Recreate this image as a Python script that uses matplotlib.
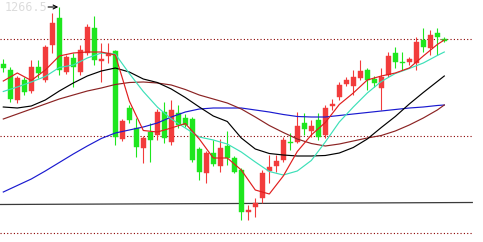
import matplotlib
matplotlib.use("Agg")
import matplotlib.pyplot as plt
import numpy as np

# ---- candle data (price units; label 1266.5 marks the highest high) ----
opens = [1238, 1235, 1220, 1230, 1224.5, 1236.5, 1230, 1247.5, 1261, 1234,
         1241, 1234, 1243.5, 1256, 1239.5, 1242, 1244.5, 1200.5, 1216, 1206,
         1196, 1204, 1202.5, 1214, 1199, 1213.5, 1211, 1210.5, 1195.5, 1183.5,
         1193.5, 1187, 1197, 1191, 1185, 1164, 1166.5, 1171, 1184.5, 1187,
         1190, 1199, 1199, 1208.5, 1204.5, 1210, 1202.5, 1217, 1221.5, 1228,
         1227, 1231, 1235, 1230.5, 1226, 1232.5, 1243.5, 1239, 1239, 1238.5,
         1250, 1246, 1253.5, 1250.5]
highs = [1240.5, 1236.5, 1232, 1231.5, 1240, 1240, 1247.5, 1263.5, 1266.5, 1242.5,
         1243.5, 1247.5, 1258, 1262, 1248.5, 1248.5, 1245, 1210.5, 1217.5, 1211,
         1202, 1208.5, 1215.5, 1219, 1220, 1217.5, 1213, 1211.5, 1196.5, 1194.5,
         1200, 1200.5, 1204.5, 1192, 1186, 1167.5, 1171, 1185, 1192.5, 1192.5,
         1201.5, 1203.5, 1214, 1213.5, 1210, 1213.5, 1217.5, 1220.5, 1229, 1231.5,
         1235, 1240, 1236, 1232, 1236, 1244, 1246.5, 1244, 1241.5, 1251.5,
         1256, 1255, 1256, 1251.5]
lows = [1234, 1219, 1218.5, 1222.5, 1223.5, 1231, 1229, 1243.5, 1232.5, 1233,
        1226.5, 1232.5, 1242.5, 1237.5, 1229, 1238.5, 1197.5, 1199.5, 1208.5, 1191.5,
        1188.5, 1189, 1200, 1198.5, 1197.5, 1206, 1206.5, 1189, 1180, 1178.5,
        1187, 1184, 1187.5, 1183.5, 1160, 1160, 1161.5, 1168.5, 1178.5, 1184,
        1189, 1195, 1198.5, 1202.5, 1201.5, 1200, 1201, 1215, 1220, 1227,
        1222.5, 1230, 1225, 1226.5, 1215, 1231.5, 1236, 1235, 1237.5, 1235,
        1244, 1242.5, 1242.5, 1249]
closes = [1236, 1220.5, 1231, 1224, 1236.5, 1233.5, 1246.5, 1258.5, 1235, 1241.5,
          1236.5, 1245, 1256.5, 1240, 1240.5, 1243.5, 1201.5, 1209.5, 1210, 1196.5,
          1201, 1200, 1214, 1201, 1215, 1207.5, 1207.5, 1190, 1184, 1193.5,
          1188, 1196, 1191, 1184, 1164, 1165, 1168.5, 1183.5, 1186.5, 1189.5,
          1200, 1198.5, 1207, 1205.5, 1207, 1201.5, 1216, 1218, 1227.5, 1230,
          1231.5, 1234.5, 1230, 1228.5, 1231.5, 1242, 1239, 1238.5, 1240.5, 1249,
          1246.5, 1252.5, 1251.5, 1249.5]

# ---- moving averages, read at every second candle (plus the last one) ----
ma_idx = list(range(0, 64, 2)) + [63]
ma_fast = [1229.5, 1233.5, 1229.75, 1235, 1242, 1243.5, 1244, 1244, 1242.5, 1219.5,
           1204.75, 1204, 1206, 1208.25, 1200.5, 1191, 1191, 1185, 1175, 1173,
           1182, 1194.25, 1202.5, 1208.75, 1217.75, 1223.5, 1230, 1232, 1233.5, 1236,
           1242, 1247.75, 1250]
ma_cyan = [1224.25, 1226.5, 1229, 1231.75, 1236.25, 1237.5, 1241, 1243.5, 1243, 1233.25,
           1224.25, 1216.5, 1210.5, 1206, 1201.5, 1200, 1198, 1194, 1189, 1184.25,
           1182.5, 1184.5, 1189.75, 1199, 1209, 1216.5, 1223.5, 1229.25, 1233.25, 1235.75,
           1238.5, 1242.25, 1244]
ma_black = [1216.5, 1216, 1217, 1220, 1224.5, 1228.5, 1232, 1234.5, 1236, 1234,
            1230.5, 1228.75, 1225.5, 1221.25, 1216.5, 1212, 1209.25, 1201, 1195.5, 1193.25,
            1192.5, 1192, 1192, 1192.25, 1193.5, 1196.25, 1200.5, 1206.25, 1211.75, 1218,
            1223.75, 1229.25, 1232]
ma_brown = [1210.5, 1213, 1215.5, 1218, 1220.5, 1222.5, 1224.5, 1226, 1227.75, 1228.75,
            1229, 1228.5, 1227.5, 1225.25, 1222.5, 1220.5, 1218.5, 1215.5, 1211.5, 1207.25,
            1203.75, 1200.5, 1198.25, 1197, 1198, 1199.5, 1201, 1202.25, 1204.5, 1207.5,
            1211, 1215, 1217.5]
ma_blue = [1174, 1177.25, 1180.5, 1184.5, 1188.75, 1193, 1197, 1200.75, 1203.5, 1205,
           1206.5, 1208.5, 1211.5, 1214, 1215.5, 1216, 1216, 1216, 1215, 1214,
           1212.75, 1211.75, 1211.5, 1211.5, 1212.25, 1213, 1213.75, 1214.5, 1215.25, 1216,
           1216.5, 1217.25, 1217.5]

# ---- reference levels ----
level_dotted = [1250.5, 1202, 1153.5]
support_line = [1167.75, 1168.75]
high_label = "1266.5"
high_value = 1266.5
high_index = 8

UP = '#f23c3c'
DOWN = '#1ee61e'

fig = plt.figure(figsize=(4.83, 2.42), dpi=100)
ax = fig.add_axes([0, 0, 1, 1])
ax.set_axis_off()
ax.set_xlim(-0.471, 68.53)
ax.set_ylim(1149, 1270)

n = len(opens)
x = np.arange(n)
o = np.array(opens); c = np.array(closes)
h = np.array(highs); l = np.array(lows)
cols = [UP if cc > oo else DOWN for oo, cc in zip(o, c)]

# levels
x_end = 67.0
for lv in level_dotted:
    ax.plot([-0.5, x_end], [lv, lv], color='#8b0000', lw=0.8,
            linestyle=(0, (1, 2)), zorder=1)
ax.plot([-0.5, x_end], support_line, color='#3a3a3a', lw=0.9, zorder=1)

# candles
ax.vlines(x, l, h, colors=cols, lw=0.8, zorder=2)
bottoms = np.minimum(o, c)
heights = np.maximum(np.abs(c - o), 0.6)
ax.bar(x, heights, bottom=bottoms, width=0.72, color=cols, edgecolor=cols,
       linewidth=0.3, zorder=3)

# moving averages
mx = np.array(ma_idx)
ax.plot(mx, ma_blue, color='#1a1ad0', lw=0.85, zorder=4)
ax.plot(mx, ma_brown, color='#8b2323', lw=0.85, zorder=4)
ax.plot(mx, ma_black, color='#000000', lw=0.85, zorder=4)
ax.plot(mx, ma_cyan, color='#3ce0b8', lw=0.85, zorder=4)
ax.plot(mx, ma_fast, color='#e01e1e', lw=0.85, zorder=5)

# highest-high label and arrow
ax.text(0.22, 1266.2, high_label, family='DejaVu Sans Mono', fontsize=8.5,
        color='#dcdcdc', ha='left', va='center', zorder=6)
ax.annotate('', xy=(high_index - 0.15, high_value), xytext=(high_index - 1.6, high_value),
            arrowprops=dict(arrowstyle='->', lw=0.8, color='black',
                            shrinkA=0, shrinkB=0, mutation_scale=7), zorder=6)

fig.savefig('out.png', dpi=100)
